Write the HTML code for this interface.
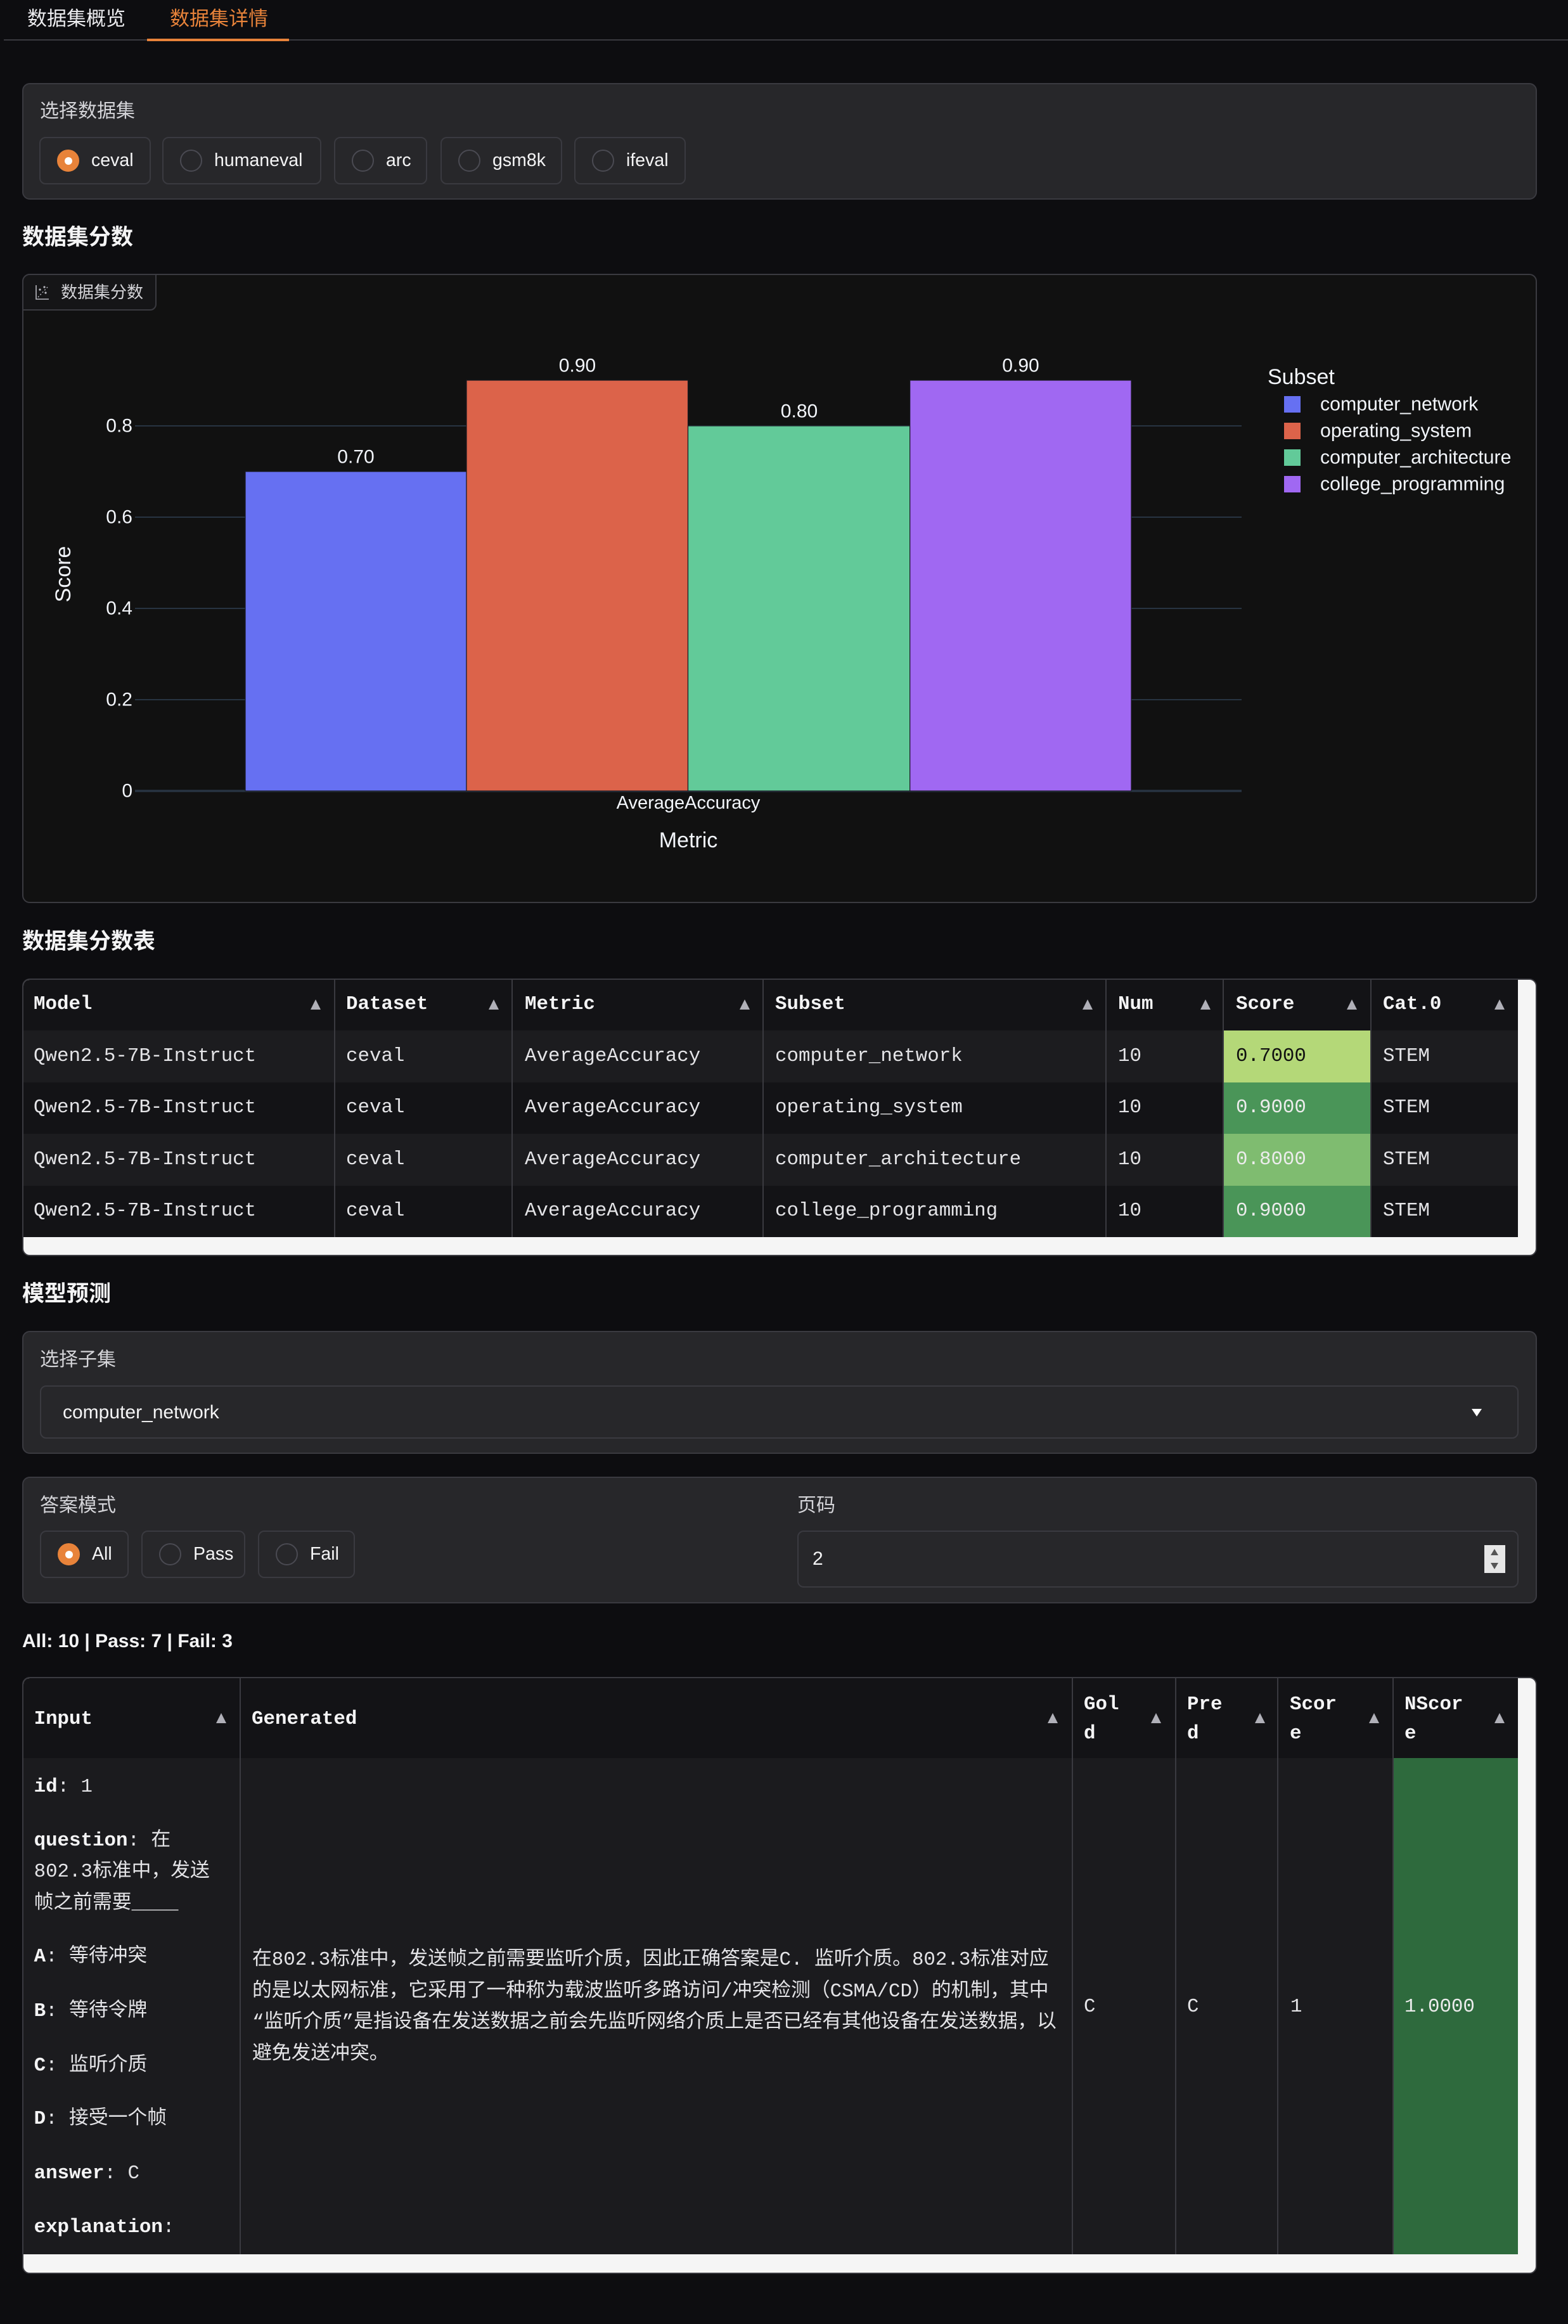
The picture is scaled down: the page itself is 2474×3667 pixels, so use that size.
<!DOCTYPE html>
<html><head><meta charset="utf-8">
<style>
*{box-sizing:border-box;margin:0;padding:0}
html,body{width:2474px;height:3667px;background:#0d0d10;overflow:hidden}
body{position:relative;font-family:"Liberation Sans","Noto Sans CJK SC",sans-serif;color:#e4e4e7}
.a{position:absolute}
.t{position:absolute;white-space:nowrap;line-height:1}
.blk{position:absolute;background:#27272a;border:2px solid #3a3a40;border-radius:12px}
.rb{position:absolute;border:2px solid #3a3a40;border-radius:10px;background:#27272a;height:75px;top:0}
.rc{position:absolute;width:35px;height:35px;border-radius:50%;border:2px solid #4a4a52;left:26px;top:18px}
.rc.on{background:#e8833a;border-color:#e8833a}
.rc.on::after{content:"";position:absolute;left:50%;top:50%;width:12px;height:12px;margin:-6px 0 0 -6px;border-radius:50%;background:#fff}
.rl{position:absolute;left:80px;top:21px;font-size:28.5px;line-height:1;color:#f4f4f5;white-space:nowrap}
.m{position:absolute;font-family:"Liberation Mono","Noto Sans CJK SC",monospace;font-size:30.8px;line-height:1;white-space:nowrap;color:#e4e4e7}
.b{font-weight:bold;color:#f4f4f5}
.arr{position:absolute;width:0;height:0;border-left:8px solid transparent;border-right:8px solid transparent;border-bottom:16px solid #b0b0b8}
.vl{position:absolute;width:2px;background:#3a3a40}
.lbl{position:absolute;font-size:30px;line-height:1;color:#d4d4d8;white-space:nowrap}
.h{position:absolute;font-size:35px;line-height:1;font-weight:bold;color:#f4f4f5;white-space:nowrap}
</style></head>
<body>

<!-- Tabs -->
<div class="t" style="left:43px;top:14px;font-size:31px;color:#ececef">数据集概览</div>
<div class="t" style="left:268px;top:14px;font-size:31px;color:#e8833a">数据集详情</div>
<div class="a" style="left:6px;top:62px;width:2468px;height:2px;background:#3a3a40"></div>
<div class="a" style="left:232px;top:60.5px;width:224px;height:4px;background:#e8833a"></div>

<!-- Select dataset block -->
<div class="blk" style="left:35px;top:131px;width:2390px;height:184px"></div>
<div class="lbl" style="left:63px;top:161px">选择数据集</div>
<div class="a" style="left:0;top:216px;width:2474px;height:75px">
  <div class="rb" style="left:62px;width:176px"><div class="rc on"></div><div class="rl">ceval</div></div>
  <div class="rb" style="left:256px;width:251px"><div class="rc"></div><div class="rl">humaneval</div></div>
  <div class="rb" style="left:527px;width:147px"><div class="rc"></div><div class="rl">arc</div></div>
  <div class="rb" style="left:695px;width:192px"><div class="rc"></div><div class="rl">gsm8k</div></div>
  <div class="rb" style="left:906px;width:176px"><div class="rc"></div><div class="rl">ifeval</div></div>
</div>

<!-- Heading -->
<div class="h" style="left:35px;top:356.5px">数据集分数</div>

<!-- Chart block -->
<div class="a" style="left:35px;top:432px;width:2390px;height:993px;background:#111111;border:2px solid #3a3a40;border-radius:12px"></div>
<div class="a" style="left:35px;top:432px;width:212px;height:58px;border:2px solid #3a3a40;border-radius:12px 0 10px 0;background:#151517"></div>
<svg class="a" style="left:55px;top:448px" width="24" height="26" viewBox="0 0 24 26">
  <path d="M2 2 V24 H22" stroke="#b8b8c0" stroke-width="1.6" fill="none"/>
  <path d="M5 21 L20 5" stroke="#b8b8c0" stroke-width="1.4" stroke-dasharray="2 3" fill="none"/>
  <circle cx="8" cy="9" r="1.6" fill="#b8b8c0"/><circle cx="15" cy="5" r="1.6" fill="#b8b8c0"/><circle cx="17" cy="14" r="1.6" fill="#b8b8c0"/>
</svg>
<div class="t" style="left:96px;top:448px;font-size:26px;color:#d4d4d8">数据集分数</div>

<svg class="a" style="left:0;top:0" width="2474" height="1430" font-family="Liberation Sans, sans-serif">
  <g stroke="#283442" stroke-width="2">
    <line x1="213" y1="672" x2="1959" y2="672"/>
    <line x1="213" y1="816" x2="1959" y2="816"/>
    <line x1="213" y1="960" x2="1959" y2="960"/>
    <line x1="213" y1="1104" x2="1959" y2="1104"/>
  </g>
  <line x1="213" y1="1248" x2="1959" y2="1248" stroke="#283442" stroke-width="3.5"/>
  <g stroke="#1a1a22" stroke-width="1.2">
    <rect x="387" y="744" width="349" height="504" fill="#6670f2"/>
    <rect x="736" y="600" width="349.5" height="648" fill="#dc634a"/>
    <rect x="1085.5" y="672" width="350.2" height="576" fill="#62ca99"/>
    <rect x="1435.7" y="600" width="349.3" height="648" fill="#a068f2"/>
  </g>
  <g fill="#f2f5fa" font-size="30" text-anchor="middle" dominant-baseline="central">
    <text x="561.5" y="721">0.70</text>
    <text x="911" y="577">0.90</text>
    <text x="1261" y="649">0.80</text>
    <text x="1610.5" y="577">0.90</text>
  </g>
  <g fill="#f2f5fa" font-size="30" text-anchor="end" dominant-baseline="central">
    <text x="209" y="672">0.8</text>
    <text x="209" y="816">0.6</text>
    <text x="209" y="960">0.4</text>
    <text x="209" y="1104">0.2</text>
    <text x="209" y="1248">0</text>
  </g>
  <text x="1086" y="1267" fill="#f2f5fa" font-size="29" text-anchor="middle" dominant-baseline="central">AverageAccuracy</text>
  <text x="1086" y="1326" fill="#f2f5fa" font-size="34" text-anchor="middle" dominant-baseline="central">Metric</text>
  <text x="100" y="906" fill="#f2f5fa" font-size="34" text-anchor="middle" dominant-baseline="central" transform="rotate(-90 100 906)">Score</text>
  <text x="2000" y="595" fill="#f2f5fa" font-size="34" dominant-baseline="central">Subset</text>
  <rect x="2026" y="625" width="26" height="26" fill="#6670f2"/>
  <rect x="2026" y="667" width="26" height="26" fill="#dc634a"/>
  <rect x="2026" y="709" width="26" height="26" fill="#62ca99"/>
  <rect x="2026" y="751" width="26" height="26" fill="#a068f2"/>
  <g fill="#f2f5fa" font-size="30.3" dominant-baseline="central">
    <text x="2083" y="638">computer_network</text>
    <text x="2083" y="680">operating_system</text>
    <text x="2083" y="722">computer_architecture</text>
    <text x="2083" y="764">college_programming</text>
  </g>
</svg>

<!-- Heading table -->
<div class="h" style="left:35px;top:1467.5px">数据集分数表</div>

<!-- Table 1 -->
<div class="a" style="left:35px;top:1544px;width:2390px;height:438px;background:#f5f5f5;border:2px solid #3a3a40;border-radius:12px"></div>
<div class="a" style="left:37px;top:1546px;width:2358px;height:80px;background:#131316;border-radius:10px 0 0 0"></div>
<div class="a" style="left:37px;top:1626px;width:2358px;height:81.5px;background:#1c1c1f"></div>
<div class="a" style="left:37px;top:1707.5px;width:2358px;height:81.5px;background:#131316"></div>
<div class="a" style="left:37px;top:1789px;width:2358px;height:81.5px;background:#1c1c1f"></div>
<div class="a" style="left:37px;top:1870.5px;width:2358px;height:81.5px;background:#131316"></div>
<div class="a" style="left:1930px;top:1626px;width:233px;height:81.5px;background:#b4d878"></div>
<div class="a" style="left:1930px;top:1707.5px;width:233px;height:81.5px;background:#4a9558"></div>
<div class="a" style="left:1930px;top:1789px;width:233px;height:81.5px;background:#7fbc70"></div>
<div class="a" style="left:1930px;top:1870.5px;width:233px;height:81.5px;background:#4a9558"></div>
<div class="vl" style="left:527px;top:1546px;height:406px"></div>
<div class="vl" style="left:807px;top:1546px;height:406px"></div>
<div class="vl" style="left:1203px;top:1546px;height:406px"></div>
<div class="vl" style="left:1744px;top:1546px;height:406px"></div>
<div class="vl" style="left:1929px;top:1546px;height:406px"></div>
<div class="vl" style="left:2162px;top:1546px;height:406px"></div>

<div class="m b" style="left:53px;top:1570px">Model</div>
<div class="m b" style="left:546px;top:1570px">Dataset</div>
<div class="m b" style="left:828px;top:1570px">Metric</div>
<div class="m b" style="left:1223px;top:1570px">Subset</div>
<div class="m b" style="left:1764px;top:1570px">Num</div>
<div class="m b" style="left:1950px;top:1570px">Score</div>
<div class="m b" style="left:2182px;top:1570px">Cat.0</div>
<div class="arr" style="left:490px;top:1577px"></div>
<div class="arr" style="left:771px;top:1577px"></div>
<div class="arr" style="left:1167px;top:1577px"></div>
<div class="arr" style="left:1708px;top:1577px"></div>
<div class="arr" style="left:1894px;top:1577px"></div>
<div class="arr" style="left:2125px;top:1577px"></div>
<div class="arr" style="left:2358px;top:1577px"></div>

<div class="m" style="left:53px;top:1651.5px">Qwen2.5-7B-Instruct</div>
<div class="m" style="left:546px;top:1651.5px">ceval</div>
<div class="m" style="left:828px;top:1651.5px">AverageAccuracy</div>
<div class="m" style="left:1223px;top:1651.5px">computer_network</div>
<div class="m" style="left:1764px;top:1651.5px">10</div>
<div class="m" style="left:1950px;top:1651.5px;color:#111">0.7000</div>
<div class="m" style="left:2182px;top:1651.5px">STEM</div>

<div class="m" style="left:53px;top:1733px">Qwen2.5-7B-Instruct</div>
<div class="m" style="left:546px;top:1733px">ceval</div>
<div class="m" style="left:828px;top:1733px">AverageAccuracy</div>
<div class="m" style="left:1223px;top:1733px">operating_system</div>
<div class="m" style="left:1764px;top:1733px">10</div>
<div class="m" style="left:1950px;top:1733px;color:#ececec">0.9000</div>
<div class="m" style="left:2182px;top:1733px">STEM</div>

<div class="m" style="left:53px;top:1814.5px">Qwen2.5-7B-Instruct</div>
<div class="m" style="left:546px;top:1814.5px">ceval</div>
<div class="m" style="left:828px;top:1814.5px">AverageAccuracy</div>
<div class="m" style="left:1223px;top:1814.5px">computer_architecture</div>
<div class="m" style="left:1764px;top:1814.5px">10</div>
<div class="m" style="left:1950px;top:1814.5px;color:#ececec">0.8000</div>
<div class="m" style="left:2182px;top:1814.5px">STEM</div>

<div class="m" style="left:53px;top:1896px">Qwen2.5-7B-Instruct</div>
<div class="m" style="left:546px;top:1896px">ceval</div>
<div class="m" style="left:828px;top:1896px">AverageAccuracy</div>
<div class="m" style="left:1223px;top:1896px">college_programming</div>
<div class="m" style="left:1764px;top:1896px">10</div>
<div class="m" style="left:1950px;top:1896px;color:#ececec">0.9000</div>
<div class="m" style="left:2182px;top:1896px">STEM</div>

<!-- Model prediction -->
<div class="h" style="left:35px;top:2023.5px">模型预测</div>

<div class="blk" style="left:35px;top:2100px;width:2390px;height:194px"></div>
<div class="lbl" style="left:63px;top:2130.5px">选择子集</div>
<div class="a" style="left:63px;top:2186px;width:2333px;height:84px;background:#27272a;border:2px solid #3a3a40;border-radius:10px"></div>
<div class="t" style="left:99px;top:2214px;font-size:30px;color:#f4f4f5">computer_network</div>
<div class="a" style="left:2322px;top:2223px;width:0;height:0;border-left:8px solid transparent;border-right:8px solid transparent;border-top:12px solid #fff"></div>

<div class="blk" style="left:35px;top:2330px;width:2390px;height:200px"></div>
<div class="lbl" style="left:63px;top:2360.5px">答案模式</div>
<div class="lbl" style="left:1258px;top:2360.5px">页码</div>
<div class="a" style="left:0;top:2415px;width:2474px;height:75px">
  <div class="rb" style="left:63px;width:140px"><div class="rc on"></div><div class="rl">All</div></div>
  <div class="rb" style="left:223px;width:164px"><div class="rc"></div><div class="rl">Pass</div></div>
  <div class="rb" style="left:407px;width:153px"><div class="rc"></div><div class="rl">Fail</div></div>
</div>
<div class="a" style="left:1258px;top:2415px;width:1138px;height:90px;background:#27272a;border:2px solid #3a3a40;border-radius:10px"></div>
<div class="t" style="left:1282px;top:2445px;font-size:30px;color:#f4f4f5">2</div>
<div class="a" style="left:2342px;top:2438px;width:33px;height:44px;background:#e6e6e6"></div>
<div class="a" style="left:2352px;top:2444px;width:0;height:0;border-left:6px solid transparent;border-right:6px solid transparent;border-bottom:10px solid #555"></div>
<div class="a" style="left:2352px;top:2466px;width:0;height:0;border-left:6px solid transparent;border-right:6px solid transparent;border-top:10px solid #555"></div>

<div class="t" style="left:35px;top:2575px;font-size:30px;font-weight:bold;color:#f4f4f5">All: 10 | Pass: 7 | Fail: 3</div>

<!-- Table 2 -->
<div class="a" style="left:35px;top:2646px;width:2390px;height:942px;background:#f5f5f5;border:2px solid #3a3a40;border-radius:12px"></div>
<div class="a" style="left:37px;top:2648px;width:2358px;height:126px;background:#131316;border-radius:10px 0 0 0"></div>
<div class="a" style="left:37px;top:2774px;width:2358px;height:783px;background:#1b1b1e"></div>
<div class="a" style="left:2198px;top:2774px;width:197px;height:783px;background:#2e6a3d"></div>
<div class="vl" style="left:378px;top:2648px;height:909px"></div>
<div class="vl" style="left:1691px;top:2648px;height:909px"></div>
<div class="vl" style="left:1854px;top:2648px;height:909px"></div>
<div class="vl" style="left:2015px;top:2648px;height:909px"></div>
<div class="vl" style="left:2197px;top:2648px;height:909px"></div>

<div class="m b" style="left:53.6px;top:2698px">Input</div>
<div class="m b" style="left:397px;top:2698px">Generated</div>
<div class="m b" style="left:1710px;top:2674.5px">Gol</div>
<div class="m b" style="left:1710px;top:2721px">d</div>
<div class="m b" style="left:1873px;top:2674.5px">Pre</div>
<div class="m b" style="left:1873px;top:2721px">d</div>
<div class="m b" style="left:2035px;top:2674.5px">Scor</div>
<div class="m b" style="left:2035px;top:2721px">e</div>
<div class="m b" style="left:2216px;top:2674.5px">NScor</div>
<div class="m b" style="left:2216px;top:2721px">e</div>
<div class="arr" style="left:341px;top:2703px"></div>
<div class="arr" style="left:1653px;top:2703px"></div>
<div class="arr" style="left:1816px;top:2703px"></div>
<div class="arr" style="left:1980px;top:2703px"></div>
<div class="arr" style="left:2160px;top:2703px"></div>
<div class="arr" style="left:2358px;top:2703px"></div>

<div class="m" style="left:53.6px;top:2805px"><span class="b">id</span>: 1</div>
<div class="m" style="left:53.6px;top:2889.5px"><span class="b">question</span>: 在</div>
<div class="m" style="left:53.6px;top:2939px">802.3标准中，发送</div>
<div class="m" style="left:53.6px;top:2989px">帧之前需要____</div>
<div class="m" style="left:53.6px;top:3073px"><span class="b">A</span>: 等待冲突</div>
<div class="m" style="left:53.6px;top:3159px"><span class="b">B</span>: 等待令牌</div>
<div class="m" style="left:53.6px;top:3245px"><span class="b">C</span>: 监听介质</div>
<div class="m" style="left:53.6px;top:3329px"><span class="b">D</span>: 接受一个帧</div>
<div class="m" style="left:53.6px;top:3415px"><span class="b">answer</span>: C</div>
<div class="m" style="left:53.6px;top:3500px"><span class="b">explanation</span>:</div>

<div class="m" style="left:398px;top:3078px">在802.3标准中，发送帧之前需要监听介质，因此正确答案是C. 监听介质。802.3标准对应</div>
<div class="m" style="left:398px;top:3127.6px">的是以太网标准，它采用了一种称为载波监听多路访问/冲突检测（CSMA/CD）的机制，其中</div>
<div class="m" style="left:398px;top:3177px">“监听介质”是指设备在发送数据之前会先监听网络介质上是否已经有其他设备在发送数据，以</div>
<div class="m" style="left:398px;top:3227px">避免发送冲突。</div>

<div class="m" style="left:1710px;top:3152px">C</div>
<div class="m" style="left:1873px;top:3152px">C</div>
<div class="m" style="left:2036px;top:3152px">1</div>
<div class="m" style="left:2216px;top:3152px;color:#ececec">1.0000</div>

</body></html>
